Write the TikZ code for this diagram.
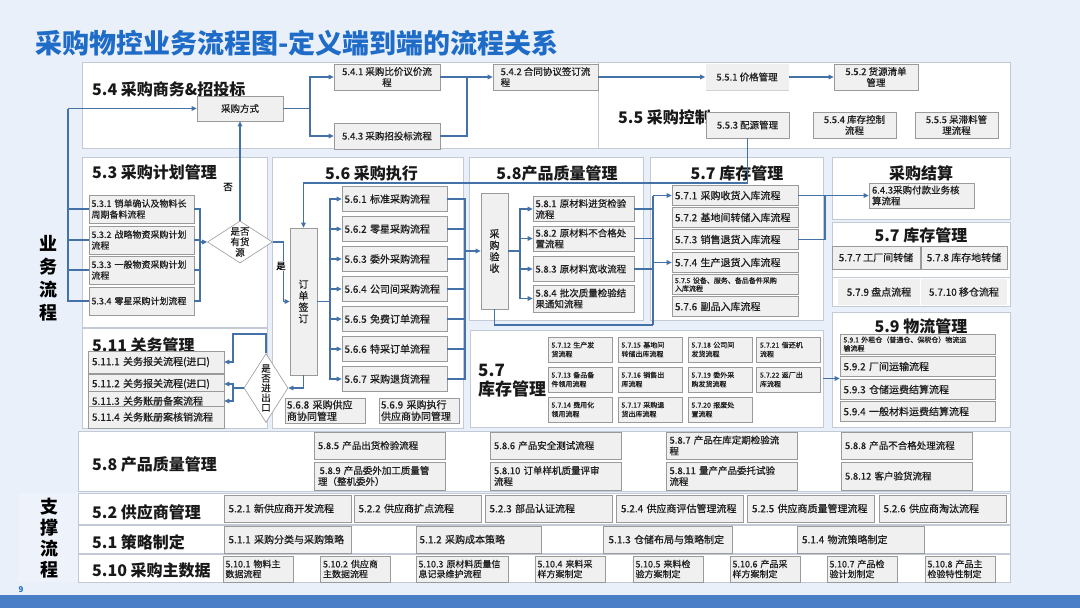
\documentclass[tikz,border=0pt]{standalone}
\usepackage{fontspec}
\setmainfont{Noto Sans CJK SC}
\newfontfamily\bxf[FakeBold=0.6]{Noto Sans CJK SC}
\usetikzlibrary{shapes.geometric,arrows.meta,shadows}
\definecolor{pagebg}{HTML}{E9F0FA}
\definecolor{labelbg}{HTML}{EEF3FB}
\definecolor{titleblue}{HTML}{1E6CC8}
\definecolor{lineblue}{HTML}{4472A8}
\definecolor{panelline}{HTML}{C3CAD6}
\definecolor{boxfill}{HTML}{F0F0F0}
\definecolor{boxline}{HTML}{9A9A9A}
\definecolor{barblue}{HTML}{4A7FC8}
\begin{document}
\begin{tikzpicture}[x=1pt,y=-1pt,
  panel/.style={draw=panelline,fill=white,line width=0.8pt},
  box/.style={draw=boxline,fill=boxfill,line width=0.6pt,inner sep=1pt,align=left,text=black!88,
    drop shadow={shadow xshift=0.7pt,shadow yshift=-0.7pt,fill=black!45,opacity=0.4},
    font=\bxf\fontsize{9.5}{11}\selectfont},
  b54/.style={box,minimum width=106pt,minimum height=26pt,align=center},
  b55/.style={box,minimum width=83pt,minimum height=26pt,align=center},
  b53/.style={box,minimum width=105pt,minimum height=28pt,text width=100pt,font=\bxf\fontsize{9}{11}\selectfont},
  b56/.style={box,minimum width=105pt,minimum height=25pt,text width=100pt,font=\bxf\fontsize{10}{12}\selectfont},
  b58/.style={box,minimum width=101pt,minimum height=25pt,text width=96pt},
  b57/.style={box,minimum width=126pt,minimum height=20pt,text width=120pt,font=\bxf\fontsize{10}{12}\selectfont},
  b59/.style={box,minimum width=155pt,minimum height=20pt,text width=148pt,font=\bxf\fontsize{10}{12}\selectfont},
  b57s/.style={box,minimum width=64pt,minimum height=25pt,text width=57pt,font=\bxf\fontsize{7}{9}\selectfont},
  b511/.style={box,minimum width=136pt,minimum height=21pt,text width=128pt,font=\bxf\fontsize{10}{12}\selectfont},
  b58b/.style={box,minimum width=131pt,minimum height=28pt,text width=124pt},
  b52/.style={box,minimum width=127pt,minimum height=27pt,text width=118pt,font=\bxf\fontsize{10}{12}\selectfont},
  b510/.style={box,minimum width=70pt,minimum height=26pt,text width=65pt,font=\bxf\fontsize{9}{10}\selectfont},
  vbox/.style={box,minimum width=27pt,align=center,font=\bxf\fontsize{10}{11.5}\selectfont},
  cell/.style={fill=boxfill,inner sep=1pt,text=black!88,font=\bxf\fontsize{10}{12}\selectfont},
  dia/.style={diamond,draw=boxline,fill=white,line width=0.6pt,inner sep=0pt},
  dtxt/.style={align=center,inner sep=0pt,text=black!88,font=\bxf\fontsize{9.5}{10.5}\selectfont},
  ttl/.style={inner sep=0pt,text=black!90,font=\bfseries\fontsize{16}{19}\selectfont},
  lbl/.style={inner sep=1pt,font=\bxf\fontsize{9.5}{11}\selectfont},
  ln/.style={draw=lineblue,line width=1.3pt},
  arr/.style={ln,-{Triangle[length=5pt,width=4.5pt]}}]
\useasboundingbox (0,0) rectangle (1080,608);
\fill[pagebg] (0,0) rectangle (1080,608);
\fill[barblue] (0,595) rectangle (1080,608);
\fill[labelbg] (18,493) rectangle (81,582);

% title and side labels
\node[anchor=west,inner sep=0pt,text=titleblue,font=\bfseries\fontsize{27}{30}\selectfont] (title) at (35,43) {采购物控业务流程图-定义端到端的流程关系};
\node[align=center,inner sep=0pt,font=\bfseries\fontsize{18}{23}\selectfont] (ywlc) at (48,278) {业\\务\\流\\程};
\node[align=center,inner sep=0pt,font=\bfseries\fontsize{18}{21}\selectfont] (zclc) at (50,538) {支\\撑\\流\\程};
\node[inner sep=0pt,text=titleblue,font=\bfseries\fontsize{8}{9}\selectfont] (pg) at (21,590) {9};

% panels
\draw[panel] (82,62) rectangle (598,148);
\draw[panel] (598,62) rectangle (1010,148);
\draw[panel] (82,157) rectangle (267,327);
\draw[panel] (82,328) rectangle (267,428);
\draw[panel] (272,157) rectangle (463,428);
\draw[panel] (469,157) rectangle (643,320);
\draw[panel] (650,157) rectangle (823,320);
\draw[panel] (470,330) rectangle (823,427);
\draw[panel] (832,157) rectangle (1010,219);
\draw[panel] (832,222) rectangle (1010,306);
\draw[panel] (832,312) rectangle (1010,427);
\draw[panel] (78,431) rectangle (1010,491);
\draw[panel] (78,493) rectangle (1010,524);
\draw[panel] (78,525) rectangle (1010,553);
\draw[panel] (78,554) rectangle (1010,582);
\draw[panelline,line width=0.8pt] (832,277) -- (1010,277);

% panel titles
\node[ttl,anchor=west] (t54) at (92,89) {5.4 采购商务\&招投标};
\node[ttl,anchor=west] (t55) at (618,117) {5.5 采购控制};
\node[ttl,anchor=west] (t53) at (92,172) {5.3 采购计划管理};
\node[ttl,anchor=west] (t511) at (92,345) {5.11 关务管理};
\node[ttl,anchor=west] (t56) at (325,173) {5.6 采购执行};
\node[ttl] (t58) at (557,173) {5.8产品质量管理};
\node[ttl] (t57) at (737,173) {5.7 库存管理};
\node[ttl] (tjs) at (921,173) {采购结算};
\node[ttl] (t57r) at (921,235) {5.7 库存管理};
\node[ttl] (t59) at (921,326) {5.9 物流管理};
\node[ttl,anchor=west,align=left,font=\bfseries\fontsize{17}{19}\selectfont] (t57b) at (478,381) {5.7\\库存管理};
\node[ttl,anchor=west] (t58b) at (92,464) {5.8 产品质量管理};
\node[ttl,anchor=west] (t52) at (92,512) {5.2 供应商管理};
\node[ttl,anchor=west] (t51) at (92,542) {5.1 策略制定};
\node[ttl,anchor=west] (t510) at (92,570) {5.10 采购主数据};

% 5.4 / 5.5
\node[b54,minimum width=86pt,minimum height=25pt] (fs) at (240,108.5) {采购方式};
\node[b54] (n541) at (387,77) {5.4.1 采购比价议价流\\程};
\node[b54] (n543) at (387,136) {5.4.3 采购招投标流程};
\node[b54,minimum width=105pt,align=left] (n542) at (545.5,77) {5.4.2 合同协议签订流\\程};
\node[b55,draw=none,drop shadow={opacity=0}] (n551) at (747,77) {5.5.1 价格管理};
\node[b55,minimum width=84pt] (n552) at (876,77) {5.5.2 货源清单\\管理};
\node[b55] (n553) at (747.5,125) {5.5.3 配源管理};
\node[b55] (n554) at (854.5,125) {5.5.4 库存控制\\流程};
\node[b55] (n555) at (956.5,125) {5.5.5 呆滞料管\\理流程};

% 5.3
\node[b53] (n531) at (141.5,209) {5.3.1 销单确认及物料长\\周期备料流程};
\node[b53] (n532) at (141.5,240) {5.3.2 战略物资采购计划\\流程};
\node[b53] (n533) at (141.5,270) {5.3.3 一般物资采购计划\\流程};
\node[b53] (n534) at (141.5,301) {5.3.4 零星采购计划流程};
\node[dia,minimum width=65pt,minimum height=42pt] (d1) at (240,242) {};
\node[dtxt] (d1t) at (d1) {是否\\有货\\源};

% 5.6
\node[vbox,minimum height=147pt] (qd) at (303.5,301.5) {订\\单\\签\\订};
\node[b56] (n561) at (394.5,199) {5.6.1 标准采购流程};
\node[b56] (n562) at (394.5,229) {5.6.2 零星采购流程};
\node[b56] (n563) at (394.5,259) {5.6.3 委外采购流程};
\node[b56] (n564) at (394.5,289) {5.6.4 公司间采购流程};
\node[b56] (n565) at (394.5,319) {5.6.5 免费订单流程};
\node[b56] (n566) at (394.5,349) {5.6.6 特采订单流程};
\node[b56] (n567) at (394.5,379) {5.6.7 采购退货流程};
\node[b56,minimum width=80pt,text width=76pt,font=\bxf\fontsize{10}{11.5}\selectfont] (n568) at (325,410.5) {5.6.8 采购供应\\商协同管理};
\node[b56,minimum width=80pt,text width=76pt,font=\bxf\fontsize{10}{11.5}\selectfont] (n569) at (419,410.5) {5.6.9 采购执行\\供应商协同管理};

% 5.8 upper
\node[vbox,minimum height=116pt] (cy) at (494.5,251) {采\\购\\验\\收};
\node[b58] (n581) at (583.5,209) {5.8.1 原材料进货检验\\流程};
\node[b58] (n582) at (583.5,238.5) {5.8.2 原材料不合格处\\置流程};
\node[b58] (n583) at (583.5,269) {5.8.3 原材料宽收流程};
\node[b58,minimum height=27pt] (n584) at (583.5,298.5) {5.8.4 批次质量检验结\\果通知流程};

% 5.7 upper
\node[b57] (n571) at (735,195.5) {5.7.1 采购收货入库流程};
\node[b57] (n572) at (735,217.5) {5.7.2 基地间转储入库流程};
\node[b57] (n573) at (735,239.5) {5.7.3 销售退货入库流程};
\node[b57] (n574) at (735,262.5) {5.7.4 生产退货入库流程};
\node[b57,font=\bxf\fontsize{7}{8}\selectfont] (n575) at (735,284.5) {5.7.5 设备、服务、备品备件采购\\入库流程};
\node[b57] (n576) at (735,306.5) {5.7.6 副品入库流程};

% settlement, 5.7 right, 5.9
\node[b56,text width=99pt,font=\bxf\fontsize{9.5}{11}\selectfont] (n643) at (921.5,195.5) {6.4.3采购付款业务核\\算流程};
\node[box,minimum width=88pt,minimum height=23pt,font=\bxf\fontsize{10}{12}\selectfont] (n577) at (876,257.5) {5.7.7 工厂间转储};
\node[box,minimum width=86pt,minimum height=23pt,font=\bxf\fontsize{10}{12}\selectfont] (n578) at (964,257.5) {5.7.8 库存地转储};
\node[cell,minimum width=82pt,minimum height=26pt] (n579) at (879,292) {5.7.9 盘点流程};
\node[cell,minimum width=86pt,minimum height=26pt] (n5710) at (964,292) {5.7.10 移仓流程};
\node[b59,font=\bxf\fontsize{7}{8.5}\selectfont] (n591) at (917.5,344) {5.9.1 外租仓（普通仓、保税仓）物流运\\输流程};
\node[b59] (n592) at (917.5,366.5) {5.9.2 厂间运输流程};
\node[b59] (n593) at (917.5,389.5) {5.9.3 仓储运费结算流程};
\node[b59] (n594) at (917.5,411.5) {5.9.4 一般材料运费结算流程};

% 5.7 lower grid
\node[b57s] (n5712) at (580,349.5) {5.7.12 生产发\\货流程};
\node[b57s] (n5713) at (580,379.5) {5.7.13 备品备\\件领用流程};
\node[b57s] (n5714) at (580,409.5) {5.7.14 费用化\\领用流程};
\node[b57s] (n5715) at (650,349.5) {5.7.15 基地间\\转储出库流程};
\node[b57s] (n5716) at (650,379.5) {5.7.16 销售出\\库流程};
\node[b57s] (n5717) at (650,409.5) {5.7.17 采购退\\货出库流程};
\node[b57s] (n5718) at (720,349.5) {5.7.18 公司间\\发货流程};
\node[b57s] (n5719) at (720,379.5) {5.7.19 委外采\\购发货流程};
\node[b57s] (n5720) at (720,409.5) {5.7.20 报废处\\置流程};
\node[b57s] (n5721) at (788.5,349.5) {5.7.21 借还机\\流程};
\node[b57s] (n5722) at (788.5,379.5) {5.7.22 返厂出\\库流程};

% 5.11
\node[b511,minimum height=22pt] (n5111) at (156,362) {5.11.1 关务报关流程(进口)};
\node[b511,minimum height=20pt] (n5112) at (156,384) {5.11.2 关务报关流程(进口)};
\node[b511,minimum height=20pt] (n5113) at (156,401) {5.11.3 关务账册备案流程};
\node[b511,minimum height=22pt] (n5114) at (156,417) {5.11.4 关务账册案核销流程};
\node[dia,minimum width=44pt,minimum height=69pt] (d2) at (266,388) {};
\node[dtxt,font=\bxf\fontsize{9.5}{9.8}\selectfont] (d2t) at (d2) {是\\否\\进\\出\\口};

% 5.8 lower
\node[b58b,minimum height=27pt] (n585) at (380,445.5) {5.8.5 产品出货检验流程};
\node[b58b] (n589) at (380,476) {\,5.8.9 产品委外加工质量管\\理（整机委外）};
\node[b58b,minimum height=27pt] (n586) at (556,445.5) {5.8.6 产品安全测试流程};
\node[b58b] (n5810) at (556,476) {5.8.10 订单样机质量评审\\流程};
\node[b58b,minimum height=27pt] (n587) at (731.5,445.5) {5.8.7 产品在库定期检验流\\程};
\node[b58b] (n5811) at (731.5,476) {5.8.11 量产产品委托试验\\流程};
\node[b58b,minimum height=27pt] (n588) at (907,445.5) {5.8.8 产品不合格处理流程};
\node[b58b] (n5812) at (907,476) {5.8.12 客户验货流程};

% 5.2 / 5.1 / 5.10
\node[b52] (n521) at (287.5,508.5) {5.2.1 新供应商开发流程};
\node[b52] (n522) at (417.5,508.5) {5.2.2 供应商扩点流程};
\node[b52] (n523) at (548.5,508.5) {5.2.3 部品认证流程};
\node[b52] (n524) at (680,508.5) {5.2.4 供应商评估管理流程};
\node[b52] (n525) at (811,508.5) {5.2.5 供应商质量管理流程};
\node[b52] (n526) at (942.5,508.5) {5.2.6 供应商淘汰流程};
\node[b52] (n511) at (287.5,539.5) {5.1.1 采购分类与采购策略};
\node[b52,minimum width=125pt] (n512) at (478.5,539.5) {5.1.2 采购成本策略};
\node[b52,minimum width=129pt] (n513) at (667.5,539.5) {5.1.3 仓储布局与策略制定};
\node[b52] (n514) at (861,539.5) {5.1.4 物流策略制定};
\node[b510] (n5101) at (258,569) {5.10.1 物料主\\数据流程};
\node[b510] (n5102) at (355.5,569) {5.10.2 供应商\\主数据流程};
\node[b510,minimum width=92pt,text width=87pt] (n5103) at (462,569) {5.10.3 原材料质量信\\息记录维护流程};
\node[b510] (n5104) at (570,569) {5.10.4 来料采\\样方案制定};
\node[b510] (n5105) at (668,569) {5.10.5 来料检\\验方案制定};
\node[b510] (n5106) at (765,569) {5.10.6 产品采\\样方案制定};
\node[b510] (n5107) at (862,569) {5.10.7 产品检\\验计划制定};
\node[b510] (n5108) at (960,569) {5.10.8 产品主\\检验特性制定};

% connectors 5.4
\coordinate (j54a) at (310,108.5);
\coordinate (j54b) at (467,77);
\draw[ln] (fs.east) -- (j54a);
\draw[arr] (j54a) |- (n541.west);
\draw[arr] (j54a) |- (n543.west);
\draw[ln] (n541.east) -- (j54b);
\draw[ln] (n543.east) -| (j54b);
\draw[arr] (j54b) -- (n542.west);
\draw[arr] (n542.east) -- (n551.west);
\draw[arr] (n551.east) -- (n552.west);

% connectors 5.3
\coordinate (jl) at (68,108.5);
\coordinate (jr) at (200,242);
\draw[arr] (jl) -- (fs.west);
\draw[ln] (jl) |- (n534.west);
\foreach \nd in {n531,n532,n533} \draw[ln] (\nd.west) -- (\nd.west -| jl);
\foreach \nd in {n531,n532,n533,n534} \draw[ln] (\nd.east) -| (jr);
\draw[arr] (jr) -- (d1.west);
\draw[arr] (d1.north) -- (fs.south);
\node[lbl] (no1) at (228,187) {否};
\draw[arr] (d1.east) -- ++(11,0) |- (qd.west);
\node[lbl,fill=white] (yes1) at (281,266) {是};

% connectors 5.6 / 5.8 / 5.7
\coordinate (j56) at (330,301.5);
\coordinate (j56r) at (465,251);
\coordinate (j58) at (520,251);
\draw[ln] (qd.east) -- (j56);
\foreach \nd in {n561,n562,n563,n564,n565,n566,n567} \draw[arr] (j56) |- (\nd.west);
\foreach \nd in {n561,n562,n563,n564,n565,n566,n567} \draw[ln] (\nd.east) -| (j56r);
\draw[arr] (j56r) -- (cy.west);
\draw[ln] (cy.east) -- (j58);
\foreach \nd in {n581,n582,n583,n584} \draw[arr] (j58) |- (\nd.west);
\coordinate (j57a) at (653,195.5);
\coordinate (j57b) at (653,325);
\draw[ln] (j57a) -- (j57b);
\draw[arr] (j57a) -- (n571.west);
\draw[arr] (n574.west -| j57a) -- (n574.west);
\foreach \nd in {n581,n582,n583} \draw[ln] (\nd.east) -- (\nd.east -| j57a);
\draw[ln] (cy.south) |- (j57b);
\coordinate (j643) at (825,195.5);
\draw[arr] (n571.east) -- (n643.west);
\draw[ln] (n573.east) -| (j643);
\coordinate (j553) at (747.5,183);
\draw[arr] (n553.south) -- (j553) -| (qd.north);
\coordinate (p57b) at (823,378.5);
\draw[arr] (p57b) -- (p57b -| n593.west);

% connectors 5.11
\coordinate (j511a) at (233,334);
\coordinate (j511b) at (233,388);
\draw[arr] (qd.south) |- (d2.east);
\draw[arr] (d2.north) |- (j511a) |- (n5111.east);
\draw[ln] (d2.west) -- (j511b);
\draw[arr] (j511b) |- (n5112.east);
\draw[arr] (j511b) |- (n5113.east);
\end{tikzpicture}
\end{document}
